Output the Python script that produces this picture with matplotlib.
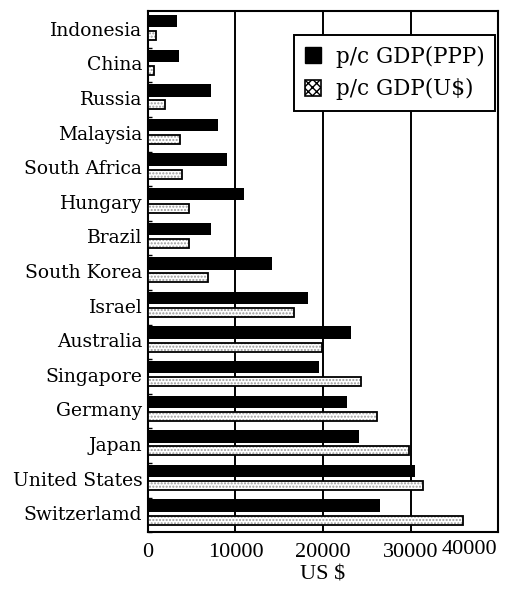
import numpy as np
import matplotlib
matplotlib.use('Agg')
import matplotlib.pyplot as plt
from matplotlib.patches import Patch

plt.rcParams['font.family'] = ['DejaVu Serif']

# Per-capita GDP, top to bottom
paises = ['Indonesia', 'China', 'Russia', 'Malaysia', 'South Africa', 'Hungary',
          'Brazil', 'South Korea', 'Israel', 'Australia', 'Singapore', 'Germany',
          'Japan', 'United States', 'Switzerlamd']
gdp_ppp = [3280, 3580, 7200, 7960, 8990, 10970, 7200, 14130, 18300, 23160,
           19540, 22780, 24150, 30490, 26510]
gdp_usd = [900, 750, 1950, 3660, 3850, 4720, 4720, 6900, 16690, 19900,
           24340, 26130, 29860, 31460, 36030]
xticks = [0, 10000, 20000, 30000, 40000]

y = np.arange(len(paises))

fig = plt.figure(figsize=(5.3, 5.9), dpi=100)
ax = fig.add_axes([0.279, 0.098, 0.661, 0.883])

# linhas de grade verticais
for gx in xticks[1:-1]:
    ax.axvline(gx, color='black', lw=1.4, zorder=1)

ax.barh(y - 0.22, gdp_ppp, height=0.36, color='black', zorder=3)
# barra US$: hachura clara por baixo, contorno preto por cima
ax.barh(y + 0.2, gdp_usd, height=0.26, color='white', edgecolor='#9a9a9a',
        hatch='.....', linewidth=0, zorder=3)
ax.barh(y + 0.2, gdp_usd, height=0.26, facecolor='none', edgecolor='black',
        linewidth=1.3, zorder=4)

# entradas da legenda
h1 = Patch(facecolor='black', edgecolor='black')
h2 = Patch(facecolor='white', edgecolor='black', hatch='xxxx', linewidth=1.2)
leg = ax.legend([h1, h2], ['p/c GDP(PPP)', 'p/c GDP(U$)'],
                loc='upper right', bbox_to_anchor=(0.992, 0.955),
                borderaxespad=0, fontsize=15.5, frameon=True, fancybox=False,
                framealpha=1, handlelength=0.75, handleheight=0.75,
                handletextpad=0.7, borderpad=0.5, labelspacing=0.5)
leg.get_frame().set_edgecolor('black')
leg.get_frame().set_linewidth(1.4)
leg.set_zorder(10)

ax.set_xlim(0, 40000)
ax.set_ylim(len(paises) - 1 + 0.34, -0.51)
ax.set_xticks(xticks)
# o último rótulo (40000) fica recuado para dentro da figura
ax.set_xticklabels([str(v) for v in xticks[:-1]] + [''], fontsize=16,
                   family='Liberation Serif')
ax.annotate(str(xticks[-1]), xy=(xticks[-1], 0), xycoords=('data', 'axes fraction'),
            xytext=(-1, -8), textcoords='offset pixels', ha='right', va='top',
            fontsize=16, family='Liberation Serif')
ax.tick_params(axis='x', length=0, pad=8)
ax.set_yticks(y)
ax.set_yticklabels(paises, fontsize=13.5)
ax.tick_params(axis='y', length=0, pad=4)
ax.set_yticks(y + 0.55, minor=True)
ax.tick_params(axis='y', which='minor', direction='in', length=3, width=1)
ax.set_xlabel('US $', fontsize=16, family='Liberation Serif', labelpad=2)

for s in ax.spines.values():
    s.set_linewidth(1.5)

plt.savefig('out.png', dpi=100)
